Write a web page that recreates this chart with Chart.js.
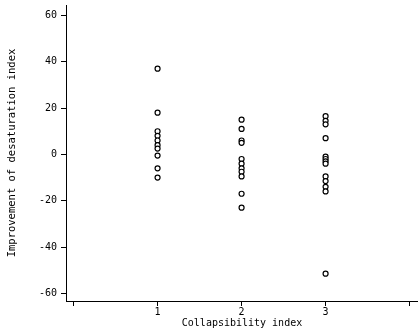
<!DOCTYPE html>
<html>
<head>
<meta charset="utf-8">
<script src="https://cdn.jsdelivr.net/npm/chart.js@4"></script>
<style>
  html, body { margin: 0; padding: 0; background: #fff; }
  #wrap { width: 418px; height: 334px; }
</style>
</head>
<body>
<div id="wrap"><canvas id="chart-1"></canvas></div>
<script>
// collapsibility index groups and improvement values
const groups = [1, 2, 3];
const index1 = [37, 18, 10, 8, 6, 4, 2.5, -0.5, -6, -10];
const index2 = [15, 11, 6, 5, -2, -4, -6, -7.5, -9.5, -17, -23];
const index3 = [16.5, 14.5, 13, 7, -1, -2, -3, -4, -9.5, -11.5, -14, -16, -51.5];
const xTicks = [0, 1, 2, 3, 4];
const xLabels = ['', '1', '2', '3', ''];
const yTicks = [-60, -40, -20, 0, 20, 40, 60];

const points = [];
[index1, index2, index3].forEach((vals, i) => {
  vals.forEach(v => points.push({x: groups[i], y: v}));
});

const font = {family: 'DejaVu Sans Mono', size: 10};

const data1 = {
  datasets: [{
    data: points,
    pointStyle: 'circle',
    pointRadius: 2.5,
    pointBorderWidth: 1.2,
    pointBorderColor: '#000',
    pointBackgroundColor: '#fff'
  }]
};

const config1 = {
  type: 'scatter',
  data: data1,
  options: {
    responsive: true,
    maintainAspectRatio: false,
    animation: false,
    layout: {autoPadding: false, padding: {top: 5, right: 0, left: 0, bottom: 0}},
    plugins: {legend: {display: false}, tooltip: {enabled: false}},
    scales: {
      x: {
        type: 'linear',
        min: -0.09,
        max: 4.1,
        afterBuildTicks: s => { s.ticks = xTicks.map(v => ({value: v})); },
        afterFit: s => { s.height = 33; s.paddingRight = 0; s.paddingLeft = 0; },
        ticks: {
          color: '#000', font: font, padding: 0, maxRotation: 0,
          callback: (v, i) => xLabels[i]
        },
        grid: {drawOnChartArea: false, tickLength: 5, color: '#000'},
        border: {display: true, color: '#000', width: 1},
        title: {display: true, text: 'Collapsibility index', color: '#000', font: font, padding: {top: 0, bottom: 5}}
      },
      y: {
        min: -63.3,
        max: 64.5,
        afterBuildTicks: s => { s.ticks = yTicks.map(v => ({value: v})); },
        afterFit: s => { s.width = 66; s.paddingTop = 0; s.paddingBottom = 0; },
        ticks: {color: '#000', font: font, padding: 4},
        grid: {drawOnChartArea: false, tickLength: 5, color: '#000'},
        border: {display: true, color: '#000', width: 1},
        title: {display: true, text: 'Improvement of desaturation index', color: '#000', font: {family: 'DejaVu Sans Mono', size: 10.5}, padding: {top: 6, bottom: 0}}
      }
    }
  }
};

const ctx1 = document.getElementById('chart-1');
const chart1 = new Chart(ctx1, config1);
</script>
</body>
</html>
